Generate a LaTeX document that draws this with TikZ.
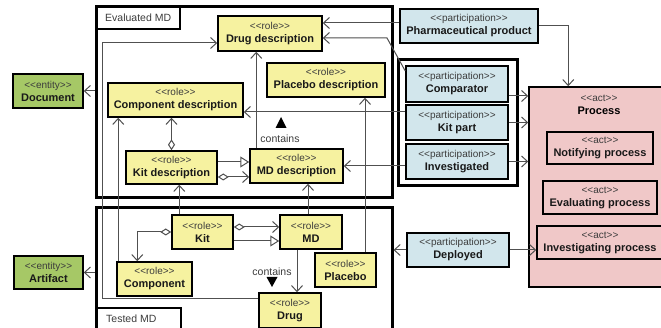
\documentclass[tikz,border=0pt]{standalone}
\usepackage{fontspec}
\setmainfont{Liberation Sans}
\usetikzlibrary{arrows.meta,calc}
\definecolor{roleY}{RGB}{246,242,160}
\definecolor{entG}{RGB}{166,200,102}
\definecolor{partB}{RGB}{210,230,236}
\definecolor{actP}{RGB}{240,200,200}
\definecolor{stgrey}{RGB}{60,60,60}
\definecolor{lineg}{RGB}{80,80,80}
\newcommand\stt[2]{{\fontsize{10}{13}\selectfont\color{stgrey}<{}<#1>{}>}\\{\fontsize{11}{13}\selectfont\bfseries #2}}
\begin{document}
\begin{tikzpicture}[x=1pt,y=-1pt,
  box/.style={draw=black,line width=1.5pt,inner sep=1pt,align=center,
    font=\fontsize{11}{13}\selectfont,text=black!90},
  role/.style={box,fill=roleY},
  ent/.style={box,fill=entG},
  part/.style={box,fill=partB},
  act/.style={box,fill=actP},
  frame/.style={draw=black,line width=3pt,inner sep=0pt},
  tab/.style={draw=black,line width=1.5pt,fill=white,inner sep=0pt},
  tabtext/.style={inner sep=0pt,anchor=west,font=\fontsize{10.5}{12}\selectfont,text=stgrey},
  conn/.style={draw=lineg,line width=1pt},
  oarr/.style={conn,-{Straight Barb[length=6pt,width=11pt]}},
  gen/.style={conn,-{Triangle[open,length=9pt,width=11pt,fill=white]}},
  dia/.style={conn,{Diamond[open,length=11pt,width=7pt,fill=white]}-{Straight Barb[length=6pt,width=11pt]}},
  note/.style={inner sep=0pt,font=\fontsize{10.5}{12}\selectfont,text=stgrey}]
\useasboundingbox (0,0) rectangle (661,328);
\clip (0,0) rectangle (661,328);

% frames
\node[frame,minimum width=296,minimum height=191] (evalframe) at (244,102.5) {};
\node[frame,minimum width=296,minimum height=127] (testframe) at (244,271.5) {};
\node[tab,minimum width=83,minimum height=22] (evaltab) at (138.5,18) {};
\node[tabtext] (evaltext) at (105,18) {Evaluated MD};
\node[tab,minimum width=84,minimum height=26] (testtab) at (139,321) {};
\node[tabtext] (testtext) at (106,319) {Tested MD};
\node[frame,minimum width=119,minimum height=126] (group) at (457.5,123) {};

% entities
\node[ent,minimum width=70,minimum height=34] (document) at (48,91) {\stt{entity}{Document}};
\node[ent,minimum width=69,minimum height=33] (artifact) at (48.5,272.5) {\stt{entity}{Artifact}};

% roles
\node[role,minimum width=104,minimum height=35] (drugdesc) at (270,33.5) {\stt{role}{Drug description}};
\node[role,minimum width=118,minimum height=34] (placdesc) at (326,80) {\stt{role}{Placebo description}};
\node[role,minimum width=135,minimum height=34] (compdesc) at (175.5,100) {\stt{role}{Component description}};
\node[role,minimum width=91,minimum height=33] (kitdesc) at (171.5,167.5) {\stt{role}{Kit description}};
\node[role,minimum width=93,minimum height=34] (mddesc) at (296.5,166) {\stt{role}{MD description}};
\node[role,minimum width=61,minimum height=34] (kit) at (202.5,232) {\stt{role}{Kit}};
\node[role,minimum width=62,minimum height=34] (md) at (311,232) {\stt{role}{MD}};
\node[role,minimum width=61,minimum height=34] (placebo) at (345.5,270) {\stt{role}{Placebo}};
\node[role,minimum width=75,minimum height=34] (component) at (154.5,279) {\stt{role}{Component}};
\node[role,minimum width=62,minimum height=35] (drug) at (290,310.5) {\stt{role}{Drug}};

% participations
\node[part,minimum width=138,minimum height=34] (pharm) at (469,26) {\stt{participation}{Pharmaceutical product}};
\node[part,minimum width=102,minimum height=36] (comparator) at (457,84) {\stt{participation}{Comparator}};
\node[part,minimum width=102,minimum height=35] (kitpart) at (457,122.5) {\stt{participation}{Kit part}};
\node[part,minimum width=102,minimum height=35] (investigated) at (457,161.5) {\stt{participation}{Investigated}};
\node[part,minimum width=102,minimum height=34] (deployed) at (458,250) {\stt{participation}{Deployed}};

% acts
\node[act,minimum width=139,minimum height=200] (process) at (598.5,187) {};
\node[inner sep=0pt,align=center,font=\fontsize{11}{13}\selectfont] (proclabel) at (599,105) {\stt{act}{Process}};
\node[act,minimum width=106,minimum height=32] (notifying) at (600,148) {\stt{act}{Notifying process}};
\node[act,minimum width=114,minimum height=33] (evaluating) at (600,197.5) {\stt{act}{Evaluating process}};
\node[act,minimum width=126,minimum height=33] (investigating) at (600,242.5) {\stt{act}{Investigating process}};

% contains labels
\node[note] (contains1) at (280,139) {contains};
\fill[black] (275.5,128) -- (286.5,128) -- (281,117) -- cycle;
\node[note] (contains2) at (272,272) {contains};
\fill[black] (266.5,277) -- (277.5,277) -- (272,287) -- cycle;

% connectors
\draw[oarr] (evalframe.west |- document.east) -- (document.east);
\draw[oarr] (testframe.west |- artifact.east) -- (artifact.east);
\draw[oarr] ($(drug.north west)+(0,6)$) -- ++(-156,0) |- ($(drugdesc.west)+(0,9.5)$);
\draw[oarr] ($(component.north west)+(2,0)$) coordinate (c1) -- (c1 |- compdesc.south);
\draw[dia] (kitdesc.north) -- (kitdesc.north |- compdesc.south);
\draw[gen] ($(kitdesc.east)+(0,-5.5)$) coordinate (c2) -- (c2 -| mddesc.west);
\draw[dia] ($(kitdesc.east)+(0,9.5)$) coordinate (c3) -- (c3 -| mddesc.west);
\draw[oarr] ($(kit.north west)+(8,0)$) coordinate (c4) -- (c4 |- kitdesc.south);
\draw[dia] (kit.west) -| ($(component.north west)+(21,0)$);
\draw[dia] ($(kit.east)+(0,-5)$) coordinate (c5) -- (c5 -| md.west);
\draw[gen] ($(kit.east)+(0,9)$) coordinate (c6) -- (c6 -| md.west);
\draw[oarr] ($(md.north)+(-3,0)$) coordinate (c7) -- (c7 |- mddesc.south);
\draw[oarr] ($(md.south)+(-14,0)$) coordinate (c8) -- (c8 |- drug.north);
\draw[oarr] ($(placebo.north)+(19.5,0)$) coordinate (c9) -- (c9 |- placdesc.south);
\draw[oarr] ($(mddesc.north west)+(7,0)$) coordinate (c10) -- (c10 |- drugdesc.south);
\draw[oarr] ($(pharm.west)+(0,-3)$) coordinate (c11) -- (c11 -| drugdesc.east);
\coordinate (bend) at (387,38);
\draw[oarr] ($(comparator.west)+(0,-13)$) -- (bend) -- (bend -| drugdesc.east);
\draw[oarr] ($(kitpart.west)+(0,-10.5)$) coordinate (c12) -- (c12 -| compdesc.east);
\draw[oarr] ($(investigated.west)+(0,4.5)$) coordinate (c13) -- (c13 -| mddesc.east);
\draw[oarr] ($(comparator.east)+(0,12)$) coordinate (c14) -- (c14 -| process.west);
\draw[oarr] (kitpart.east) -- (kitpart.east -| process.west);
\draw[oarr] (investigated.east) -- (investigated.east -| process.west);
\draw[oarr] (pharm.east) -| ($(process.north west)+(40,0)$);
\draw[oarr] (deployed.west) -- (deployed.west -| testframe.east);
\draw[oarr] (deployed.east) -- (deployed.east -| investigating.west);
\end{tikzpicture}
\end{document}
